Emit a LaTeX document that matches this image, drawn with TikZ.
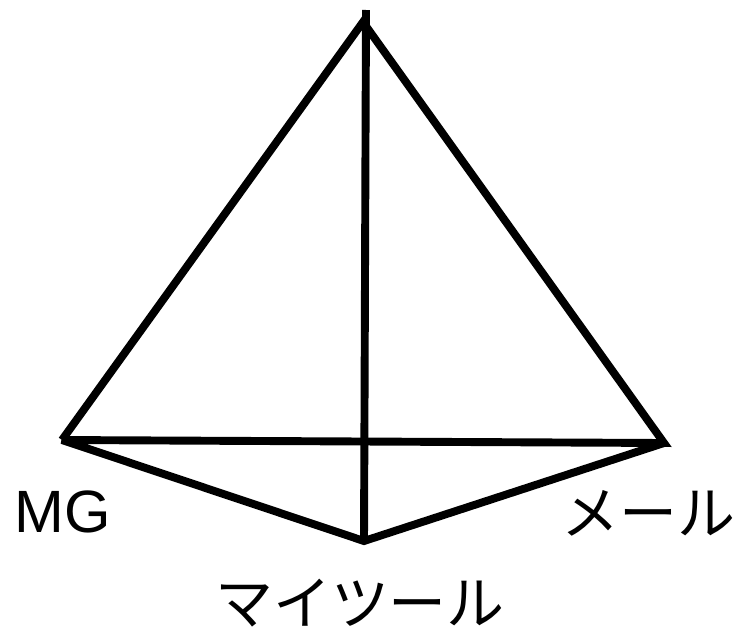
\documentclass[tikz,border=0pt]{standalone}
\usepackage{fontspec}
\setmainfont{Noto Sans CJK JP}
\newfontfamily\latinfont{Liberation Sans}
\usepackage{tikz}

\begin{document}
\begin{tikzpicture}[x=0.02cm,y=-0.02cm]
\tikzstyle{edge} = [line width=4.5pt, line join=miter, miter limit=3]
\tikzstyle{label} = [font=\fontsize{33}{38}\selectfont, inner sep=0pt]

\useasboundingbox (0,0) rectangle (742,632);

\coordinate (top) at (363,22);
\coordinate (vtop) at (366,10);
\coordinate (mg) at (62,440);
\coordinate (mail) at (664,443);
\coordinate (tool) at (364,541);

\node (mglabel) [label] at (63,512) {\latinfont\fontsize{34}{38}\selectfont MG};
\node (maillabel) [label] at (648,513) {メール};
\node (toollabel) [label] at (360,603) {マイツール};

\draw [edge] (mg) -- (top) -- (mail) -- (mg) -- (tool) -- (mail);
\draw [edge] (vtop) -- (tool);
\end{tikzpicture}
\end{document}
